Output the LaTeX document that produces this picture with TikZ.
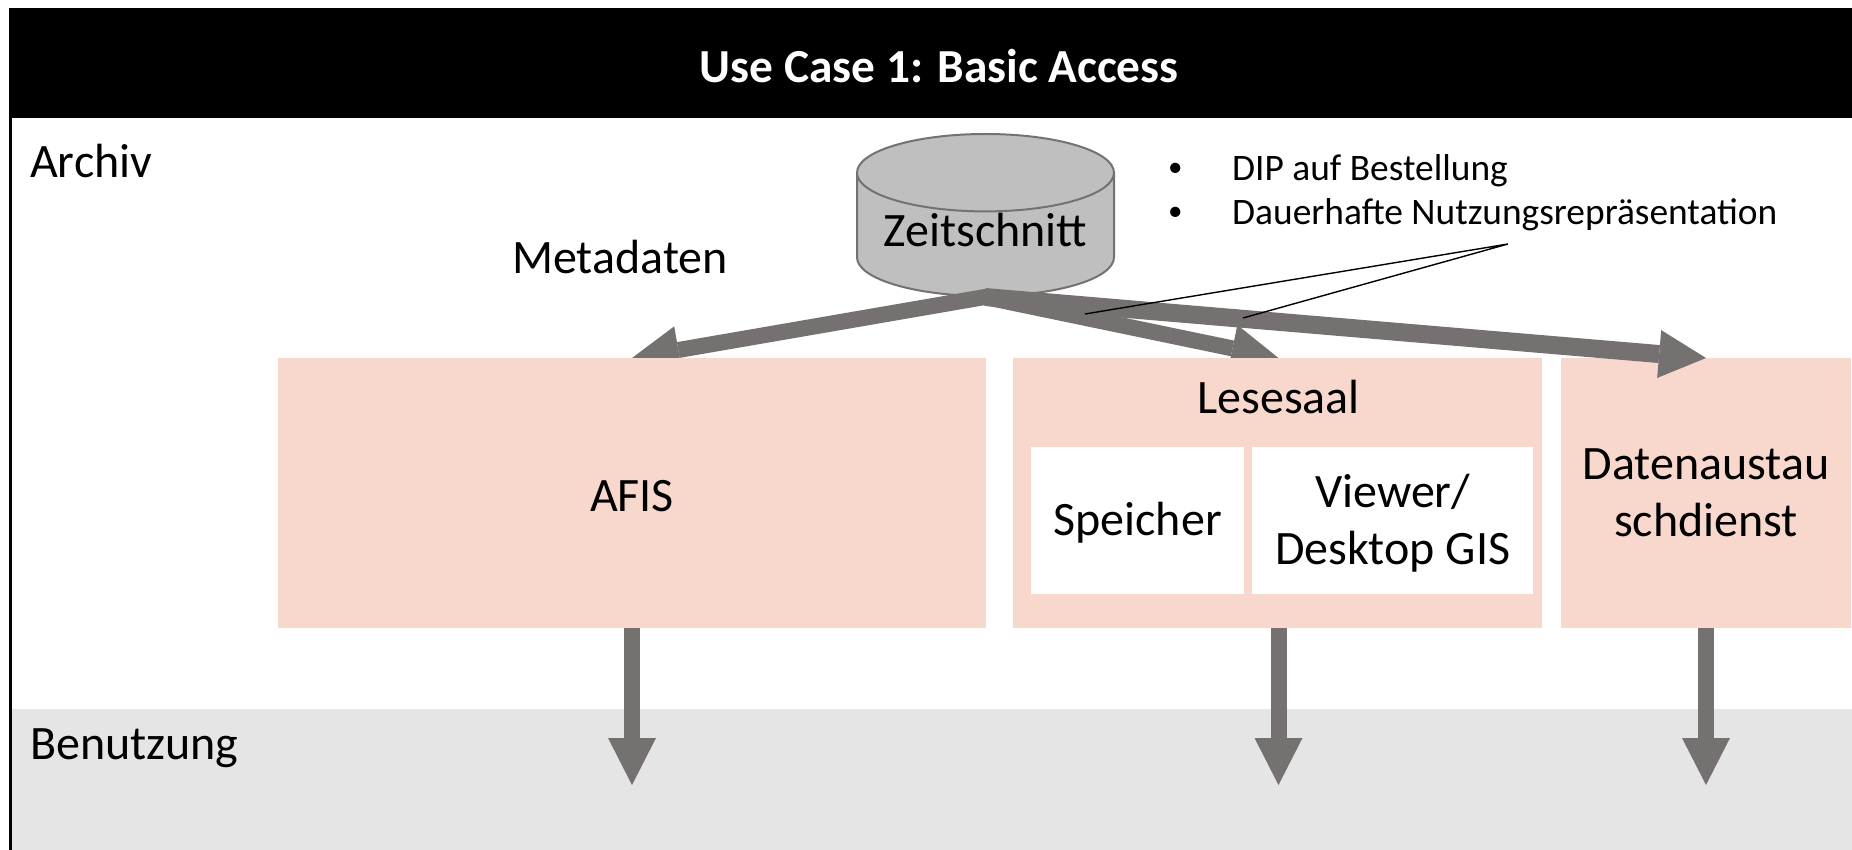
\documentclass[tikz,border=0pt]{standalone}
\usepackage{fontspec}
\setmainfont{Carlito}
\usetikzlibrary{arrows.meta,shapes.geometric}
\definecolor{flowgrey}{HTML}{767171}
\definecolor{boxpink}{HTML}{F8D7CD}
\definecolor{bandgrey}{HTML}{E5E5E5}
\definecolor{cylgrey}{HTML}{BFBFBF}
\begin{document}
\begin{tikzpicture}[x=1pt,y=-1pt,
    big/.style = {font=\fontsize{48}{57}\selectfont},
    main/.style = {big, fill=boxpink, inner sep=0pt, align=center},
    inner/.style = {big, fill=white, inner sep=0pt, align=center, anchor=north west},
    flow/.style = {draw=flowgrey, line width=16pt, line join=miter, miter limit=10},
    tip/.tip = {Triangle[length=47pt,width=48pt,line width=0pt,fill=flowgrey]},
    thin/.style = {draw=black, line width=1.4pt}]
        \useasboundingbox (0,0) rectangle (1852,850);
        \fill[white] (0,0) rectangle (1852,850);
        \node[fill=bandgrey, inner sep=0pt, minimum width=1841pt, minimum height=141pt, anchor=north west] (band) at (11,709) {};
        \node[fill=black, text=white, font=\bfseries\fontsize{47.4}{57}\selectfont, inner sep=0pt, text height=38.5pt, minimum width=1860pt, minimum height=110.5pt, anchor=north west] (title) at (9,7.5) {Use Case 1: Basic Access};
        \coordinate (corner) at (10.5,118);
        \coordinate (foot) at (10.5,850);
        \draw[line width=2.6pt] (corner) -- (foot);
        \node[big, inner sep=0pt, anchor=base west] (archiv) at (30,178) {Archiv};
        \node[big, inner sep=0pt, anchor=base west] (nutzung) at (30,759) {Benutzung};
        \node[big, inner sep=0pt, anchor=base west] (meta) at (512,273) {Metadaten};
        \node[big, cylinder, shape border rotate=90, shape aspect=0.38, draw=flowgrey, line width=2pt, fill=cylgrey, cylinder uses custom fill, cylinder body fill=cylgrey, cylinder end fill=cylgrey, text depth=10pt, minimum width=257pt, minimum height=162pt, inner sep=0pt, anchor=shape center] (zeit) at (985.5,215) {Zeitschnitt};
        \coordinate (src) at (985,297);
        \coordinate (afistop) at (632,358);
        \coordinate (lesetop) at (1278.5,358);
        \coordinate (datentop) at (1706,358);
        \draw[flow, {tip}-{tip}] (afistop) -- (src) -- (lesetop);
        \node[main, minimum width=708pt, minimum height=270pt, anchor=north] (afis) at (afistop) {\rule{0pt}{36pt}AFIS};
        \node[main, minimum width=528.5pt, minimum height=270pt, anchor=north west] (lese) at (1013,358) {};
        \node[main, minimum width=290pt, minimum height=270pt, anchor=north] (daten) at (datentop) {Datenaustau\\schdienst};
        \node[big, inner sep=0pt, anchor=base] (lesetext) at (1278.5,413) {Lesesaal};
        \node[inner, minimum width=213pt, minimum height=147pt] (speicher) at (1031,447) {\rule{0pt}{38pt}Speicher};
        \node[inner, minimum width=281pt, minimum height=147pt] (viewer) at (1252,447) {\rule{0pt}{39pt}Viewer/\\Desktop GIS};
        \draw[flow, line width=18pt, -{tip}] (src) -- (datentop);
        \coordinate (afistip) at (632,785);
        \coordinate (lesetip) at (1278.5,785);
        \coordinate (datentip) at (1706,785);
        \draw[flow, -{tip}] (afis.south) -- (afistip);
        \draw[flow, -{tip}] (lese.south -| lesetip) -- (lesetip);
        \draw[flow, -{tip}] (daten.south) -- (datentip);
        \node[font=\fontsize{37.4}{44}\selectfont, inner sep=0pt, align=left, anchor=north west] (list) at (1168,154.5) {\makebox[64pt][l]{\raisebox{4pt}{\fontsize{29}{29}\selectfont\textbullet}}DIP auf Bestellung\\\makebox[64pt][l]{\raisebox{4pt}{\fontsize{29}{29}\selectfont\textbullet}}Dauerhafte Nutzungsrepräsentation};
        \coordinate (callout) at (1508,244);
        \coordinate (hitleft) at (1085,314);
        \coordinate (hitright) at (1243,318);
        \draw[thin] (hitleft) -- (callout) -- (hitright);
\end{tikzpicture}
\end{document}
